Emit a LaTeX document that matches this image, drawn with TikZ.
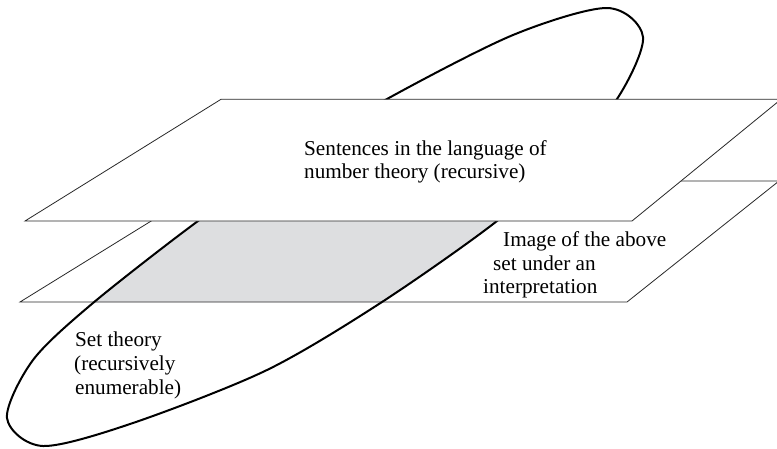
\documentclass[tikz,border=0pt]{standalone}
\usepackage{fontspec}
\setmainfont{Liberation Serif}
\definecolor{grayfill}{RGB}{221,222,224}
\definecolor{edgecol}{RGB}{40,40,40}
\begin{document}
\begin{tikzpicture}[x=1pt,y=-1pt,
  planeedge/.style={draw=edgecol, line width=0.8pt, line join=miter},
  ovalline/.style={draw=black, line width=2pt},
  lbl/.style={anchor=base west, inner sep=0pt, font=\fontsize{21.2}{23}\selectfont, text=black}]
\useasboundingbox (0,0) rectangle (777,448);
\clip (0,0) rectangle (777,448);
\fill[white] (0,0) rectangle (777,448);
% lower plane
\coordinate (LA) at (216,181);
\coordinate (LB) at (779,181);
\coordinate (LC) at (627,302);
\coordinate (LD) at (20,302);
% top plane
\coordinate (TA) at (221,99.3);
\coordinate (TB) at (781,99.3);
\coordinate (TC) at (632,221);
\coordinate (TD) at (25,221);
\fill[white] (LA) -- (LB) -- (LC) -- (LD) -- cycle;
\begin{scope}
  \clip (LA) -- (LB) -- (LC) -- (LD) -- cycle;
  \fill[grayfill] plot[smooth cycle] coordinates {(607,8) (643,37) (617,99) (560,162) (497,221) (382,302) (267,370) (133,423) (43,446) (7,418) (33,360) (93,303) (198,221) (290,158) (387,99) (513,35)};
\end{scope}
\draw[planeedge] (LA) -- (LB) -- (LC) -- (LD) -- cycle;
\draw[ovalline] plot[smooth cycle] coordinates {(607,8) (643,37) (617,99) (560,162) (497,221) (382,302) (267,370) (133,423) (43,446) (7,418) (33,360) (93,303) (198,221) (290,158) (387,99) (513,35)};
\draw[planeedge, fill=white] (TA) -- (TB) -- (TC) -- (TD) -- cycle;
% labels
\node[lbl] (s1) at (304,155) {Sentences in the language of};
\node[lbl] (s2) at (304,178) {number theory (recursive)};
\node[lbl] (i1) at (503,246) {Image of the above};
\node[lbl] (i2) at (493,270) {set under an};
\node[lbl] (i3) at (483,293) {interpretation};
\node[lbl] (t1) at (75,346) {Set theory};
\node[lbl] (t2) at (74,370) {(recursively};
\node[lbl] (t3) at (75,394) {enumerable)};
\end{tikzpicture}
\end{document}
